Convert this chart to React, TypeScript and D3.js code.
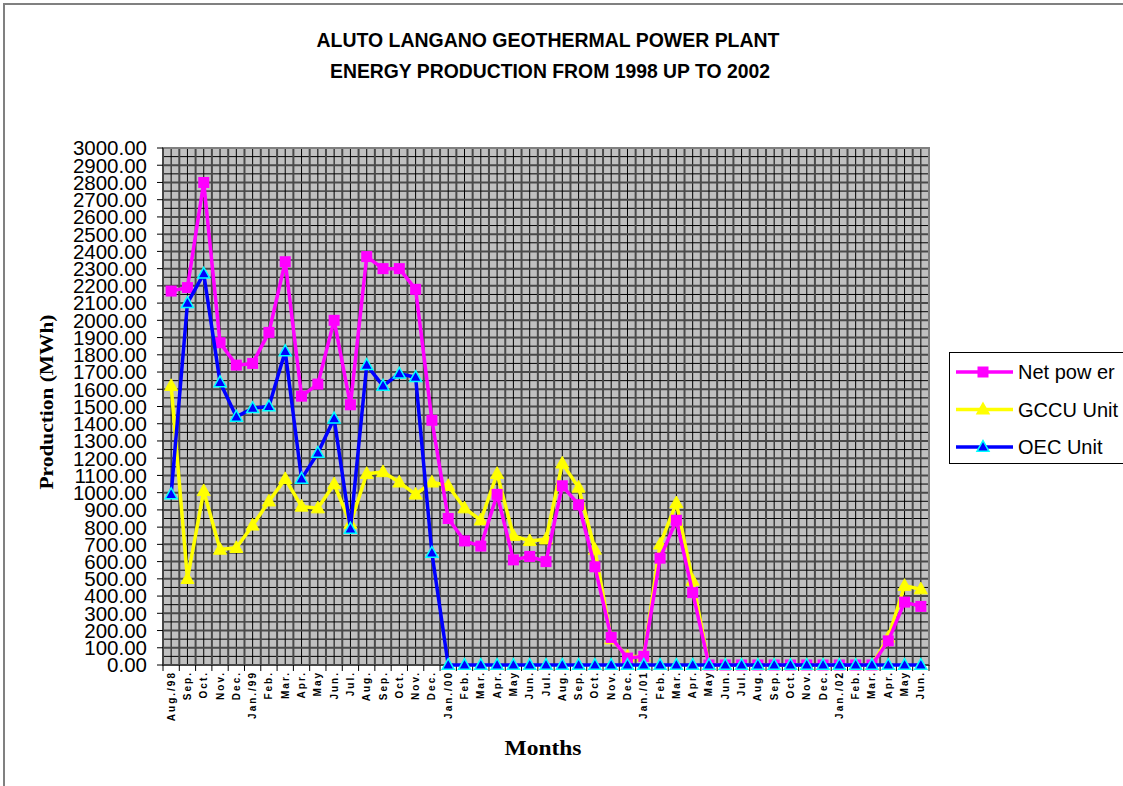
import React from "react";
import * as d3 from "d3";

const months = [
  "Aug./98", "Sep.", "Oct.", "Nov.", "Dec.",
  "Jan./99", "Feb.", "Mar.", "Apr.", "May", "Jun.", "Jul.", "Aug.", "Sep.", "Oct.", "Nov.", "Dec.",
  "Jan./00", "Feb.", "Mar.", "Apr.", "May", "Jun.", "Jul.", "Aug.", "Sep.", "Oct.", "Nov.", "Dec.",
  "Jan./01", "Feb.", "Mar.", "Apr.", "May", "Jun.", "Jul.", "Aug.", "Sep.", "Oct.", "Nov.", "Dec.",
  "Jan./02", "Feb.", "Mar.", "Apr.", "May", "Jun.",
];

const netPower = [
  2170, 2190, 2800, 1870, 1740,
  1750, 1930, 2340, 1560, 1630, 2000, 1510, 2370, 2300, 2300, 2180, 1420,
  850, 720, 690, 990, 610, 630, 600, 1040, 930, 570, 160, 40,
  50, 620, 840, 420, 0, 0, 0, 0, 0, 0, 0, 0,
  0, 0, 0, 140, 365, 340,
];

const gccuUnit = [
  1620, 500, 1010, 670, 680,
  810, 950, 1080, 920, 910, 1050, 820, 1110, 1120, 1060, 990, 1060,
  1040, 910, 840, 1110, 750, 720, 730, 1170, 1030, 670, 150, 50,
  50, 700, 940, 490, 0, 0, 0, 0, 0, 0, 0, 0,
  0, 0, 0, 160, 460, 440,
];

const oecUnit = [
  990, 2100, 2270, 1640, 1440,
  1490, 1500, 1820, 1080, 1230, 1430, 790, 1740, 1620, 1690, 1670, 650,
  0, 0, 0, 0, 0, 0, 0, 0, 0, 0, 0, 0,
  0, 0, 0, 0, 0, 0, 0, 0, 0, 0, 0, 0,
  0, 0, 0, 0, 0, 0,
];

const yTicks = d3.range(0, 3001, 100);
const yMinor = d3.range(50, 3000, 100);

const seriesNames = ["Net pow er", "GCCU Unit", "OEC Unit"];

const PL = 163, PR = 929, PT = 148, PB = 665;

const tri = (cx: number, cy: number, s: number) => {
  const h = s * 0.9;
  return `M${cx},${cy - h * 0.6}L${cx + s / 2},${cy + h * 0.4}L${cx - s / 2},${cy + h * 0.4}Z`;
};

export default function App() {
  const x = d3.scaleBand<number>().domain(d3.range(months.length)).range([PL, PR]).padding(0);
  const y = d3.scaleLinear().domain([0, 3000]).range([PB, PT]);
  const bw = x.bandwidth();
  const cx = (i: number) => (x(i) as number) + bw / 2;
  const line = d3.line<number>().x((_, i) => cx(i)).y((d) => y(d));

  const font = "'Liberation Sans', Arial, sans-serif";
  const serif = "'Liberation Serif', 'Times New Roman', serif";

  const boundaries = d3.range(months.length + 1).map((i) => PL + i * bw);

  return (
    <svg width={1123} height={786} style={{ position: "absolute", left: 0, top: 0, background: "#fff" }}>
      {/* outer frame */}
      <path d="M4,786V4H1123" fill="none" stroke="#808080" strokeWidth={2} />

      {/* title */}
      <text x={548} y={47} textAnchor="middle" fontFamily={font} fontWeight="bold" fontSize={20}
        textLength={463} lengthAdjust="spacingAndGlyphs">ALUTO LANGANO GEOTHERMAL POWER PLANT</text>
      <text x={550} y={78} textAnchor="middle" fontFamily={font} fontWeight="bold" fontSize={20}
        textLength={440} lengthAdjust="spacingAndGlyphs">ENERGY PRODUCTION FROM 1998 UP TO 2002</text>

      {/* plot background */}
      <rect x={PL} y={PT} width={PR - PL} height={PB - PT} fill="#c0c0c0" />

      {/* minor horizontal grid */}
      {yMinor.map((v) => (
        <line key={"hm" + v} x1={PL} x2={PR} y1={y(v)} y2={y(v)} stroke="#000" strokeWidth={1} />
      ))}
      {/* vertical grid at category centers */}
      {months.map((_, i) => (
        <line key={"vc" + i} x1={cx(i)} x2={cx(i)} y1={PT} y2={PB} stroke="#000" strokeWidth={1} />
      ))}
      {/* major horizontal grid */}
      {yTicks.map((v) => (
        <line key={"hM" + v} x1={PL} x2={PR} y1={y(v)} y2={y(v)} stroke="#4a4a4a" strokeWidth={2} />
      ))}
      {/* vertical grid at boundaries */}
      {boundaries.map((b, i) => (
        <line key={"vb" + i} x1={b} x2={b} y1={PT} y2={PB} stroke="#4a4a4a" strokeWidth={2} />
      ))}

      {/* plot border */}
      <rect x={PL} y={PT} width={PR - PL} height={PB - PT} fill="none" stroke="#808080" strokeWidth={2} />
      <line x1={PL} x2={PL} y1={PT} y2={PB} stroke="#333" strokeWidth={1.5} />
      <line x1={PL} x2={PR} y1={PB} y2={PB} stroke="#333" strokeWidth={1.5} />

      {/* y ticks */}
      {yTicks.map((v) => (
        <g key={"yt" + v}>
          <line x1={PL - 6} x2={PL} y1={y(v)} y2={y(v)} stroke="#000" />
          <text x={147} y={y(v)} dy="0.36em" textAnchor="end" fontFamily={font} fontSize={20.5} fill="#000">
            {v.toFixed(2)}
          </text>
        </g>
      ))}

      {/* x ticks */}
      {boundaries.map((b, i) => (
        <line key={"xt" + i} x1={b} x2={b} y1={PB} y2={PB + 6} stroke="#000" />
      ))}
      {months.map((m, i) => (
        <text key={"xl" + i} transform={`translate(${cx(i)},${671}) rotate(-90)`} dy="0.35em"
          textAnchor="end" fontFamily={font} fontWeight="bold" fontSize={10} letterSpacing={2} fill="#000">
          {m}
        </text>
      ))}

      {/* axis titles */}
      <text transform="translate(53,402) rotate(-90)" textAnchor="middle" fontFamily={serif} fontWeight="bold"
        fontSize={19} textLength={175} lengthAdjust="spacingAndGlyphs">Production (MWh)</text>
      <text x={543} y={755} textAnchor="middle" fontFamily={serif} fontWeight="bold" fontSize={20}
        textLength={77} lengthAdjust="spacingAndGlyphs">Months</text>

      {/* series: GCCU */}
      <path d={line(gccuUnit) || ""} fill="none" stroke="#ffff00" strokeWidth={3.5} strokeLinejoin="round" />
      {gccuUnit.map((v, i) => (
        <path key={"g" + i} d={tri(cx(i), y(v), 13)} fill="#ffff00" stroke="#ffff00" strokeWidth={1} />
      ))}
      {/* series: Net power */}
      <path d={line(netPower) || ""} fill="none" stroke="#ff00ff" strokeWidth={3.5} strokeLinejoin="round" />
      {netPower.map((v, i) => (
        <rect key={"n" + i} x={cx(i) - 5.5} y={y(v) - 5.5} width={11} height={11} fill="#ff00ff" />
      ))}
      {/* series: OEC */}
      <path d={line(oecUnit) || ""} fill="none" stroke="#0000ff" strokeWidth={3.5} strokeLinejoin="round" />
      {oecUnit.map((v, i) => (
        <path key={"o" + i} d={tri(cx(i), y(v), 12)} fill="#0000ff" stroke="#00ffff" strokeWidth={1.5} />
      ))}

      {/* legend */}
      <rect x={949.5} y={352.5} width={200} height={111} fill="#fff" stroke="#000" strokeWidth={1} />
      {seriesNames.map((name, i) => {
        const ly = 372 + i * 37.5;
        const color = ["#ff00ff", "#ffff00", "#0000ff"][i];
        return (
          <g key={"lg" + i}>
            <line x1={956} x2={1013} y1={ly} y2={ly} stroke={color} strokeWidth={3.5} />
            {i === 0 ? (
              <rect x={983 - 5.5} y={ly - 5.5} width={11} height={11} fill={color} />
            ) : (
              <path d={tri(983, ly, 12)} fill={color} stroke={i === 2 ? "#00ffff" : color} strokeWidth={1.5} />
            )}
            <text x={1018} y={ly} dy="0.36em" fontFamily={font} fontSize={20} fill="#000">{name}</text>
          </g>
        );
      })}
    </svg>
  );
}
